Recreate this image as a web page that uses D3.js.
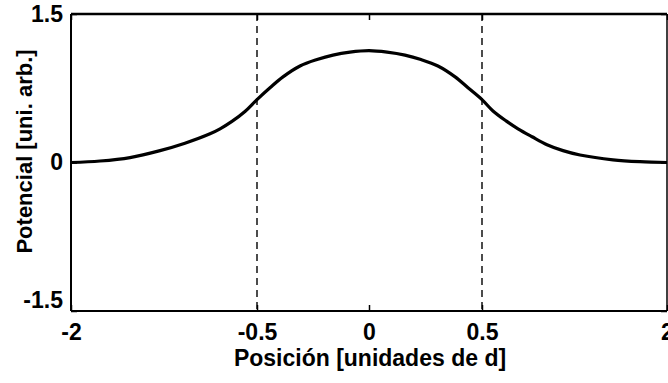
<!DOCTYPE html>
<html>
<head>
<meta charset="utf-8">
<script src="https://cdn.jsdelivr.net/npm/d3@7/dist/d3.min.js"></script>
<style>
  html, body { margin: 0; padding: 0; background: #fff; }
  svg { display: block; }
  text { font-family: "Liberation Sans", Arial, sans-serif; font-weight: bold; fill: #000; }
</style>
</head>
<body>
<svg id="chart" width="668" height="383"></svg>
<script>
// Potential profile along the position axis
const posicion = [-2, -1.766, -1.524, -1.282, -1.081, -0.879, -0.798, -0.702, -0.597, -0.5, -0.442, -0.384,
                  -0.308, -0.232, -0.161, -0.085, 0, 0.080, 0.159, 0.230, 0.305, 0.381, 0.438, 0.5,
                  0.589, 0.695, 0.792, 0.906, 1.027, 1.157, 1.295, 1.562, 1.781, 2];
const potencial = [0.0, 0.015, 0.05, 0.12, 0.195, 0.29, 0.34, 0.415, 0.515, 0.635, 0.755, 0.865,
                   0.975, 1.04, 1.085, 1.115, 1.13, 1.115, 1.085, 1.04, 0.975, 0.865, 0.755, 0.635,
                   0.52, 0.42, 0.34, 0.26, 0.18, 0.12, 0.076, 0.027, 0.008, 0.0];

// Boundaries of the region (dashed markers)
const limites = [-0.5, 0.5];

// Tick labels
const xTicks = [-2, -0.5, 0, 0.5, 2];
const yTicks = [-1.5, 0, 1.5];

const xLabel = "Posición [unidades de d]";
const yLabel = "Potencial [uni. arb.]";

const svg = d3.select("#chart");
const mLeft = 71, mRight = 667, mTop = 14, mBottom = 311;

// The position axis is piecewise: the inner region is expanded relative to the outer parts
const x = d3.scaleLinear()
  .domain(xTicks)
  .range([mLeft, 257, 369, 482, mRight]);
const y = d3.scaleLinear().domain([-1.5, 1.5]).range([mBottom, mTop]);

// Plain hyphen-minus for negative labels
const fmt = d => String(d);

// Inward ticks on all four sides
const gx = svg.append("g").attr("transform", `translate(0,${mBottom})`)
  .call(d3.axisBottom(x).tickValues(xTicks).tickFormat(fmt).tickSizeInner(-6).tickSizeOuter(0).tickPadding(13));
const gxTop = svg.append("g").attr("transform", `translate(0,${mTop})`)
  .call(d3.axisTop(x).tickValues(xTicks).tickFormat("").tickSizeInner(-6).tickSizeOuter(0));
const gy = svg.append("g").attr("transform", `translate(${mLeft},0)`)
  .call(d3.axisLeft(y).tickValues(yTicks).tickFormat(fmt).tickSizeInner(-6).tickSizeOuter(0).tickPadding(8));
const gyRight = svg.append("g").attr("transform", `translate(${mRight},0)`)
  .call(d3.axisRight(y).tickValues(yTicks).tickFormat("").tickSizeInner(-6).tickSizeOuter(0));

[gx, gxTop, gy, gyRight].forEach(g => {
  g.select(".domain").remove();
  g.selectAll(".tick line").attr("stroke", "#000").attr("stroke-width", 1.5);
  g.selectAll("text").style("font-size", "23px").style("font-family", "Liberation Sans, Arial, sans-serif").style("font-weight", "bold");
});
// Lowest y label sits slightly above its tick
gy.selectAll(".tick text").filter(d => d === -1.5).attr("dy", "-0.15em");

// Dashed boundary markers
svg.append("g").selectAll("line").data(limites).join("line")
  .attr("x1", d => x(d)).attr("x2", d => x(d))
  .attr("y1", mTop).attr("y2", mBottom)
  .attr("stroke", "#000").attr("stroke-width", 1.4)
  .attr("stroke-dasharray", "7,5");

// Potential curve
const line = d3.line()
  .x((d, i) => x(posicion[i]))
  .y(d => y(d))
  .curve(d3.curveCatmullRom.alpha(0.5));
svg.append("path")
  .datum(potencial)
  .attr("d", line)
  .attr("fill", "none")
  .attr("stroke", "#000")
  .attr("stroke-width", 3.2)
  .attr("stroke-linejoin", "round");

// Plot frame
svg.append("line").attr("x1", mLeft).attr("x2", mRight).attr("y1", mTop).attr("y2", mTop)
  .attr("stroke", "#000").attr("stroke-width", 2.5);
svg.append("line").attr("x1", mLeft).attr("x2", mRight).attr("y1", mBottom).attr("y2", mBottom)
  .attr("stroke", "#000").attr("stroke-width", 2);
svg.append("line").attr("x1", mLeft).attr("x2", mLeft).attr("y1", mTop).attr("y2", mBottom)
  .attr("stroke", "#000").attr("stroke-width", 2);
svg.append("line").attr("x1", mRight).attr("x2", mRight).attr("y1", mTop).attr("y2", mBottom)
  .attr("stroke", "#000").attr("stroke-width", 1.5);

// Axis titles
svg.append("text")
  .attr("x", 370).attr("y", 366)
  .attr("text-anchor", "middle")
  .style("font-size", "23px")
  .text(xLabel);
svg.append("text")
  .attr("transform", `translate(32,${151.5}) rotate(-90)`)
  .attr("text-anchor", "middle")
  .style("font-size", "22px")
  .text(yLabel);
</script>
</body>
</html>
